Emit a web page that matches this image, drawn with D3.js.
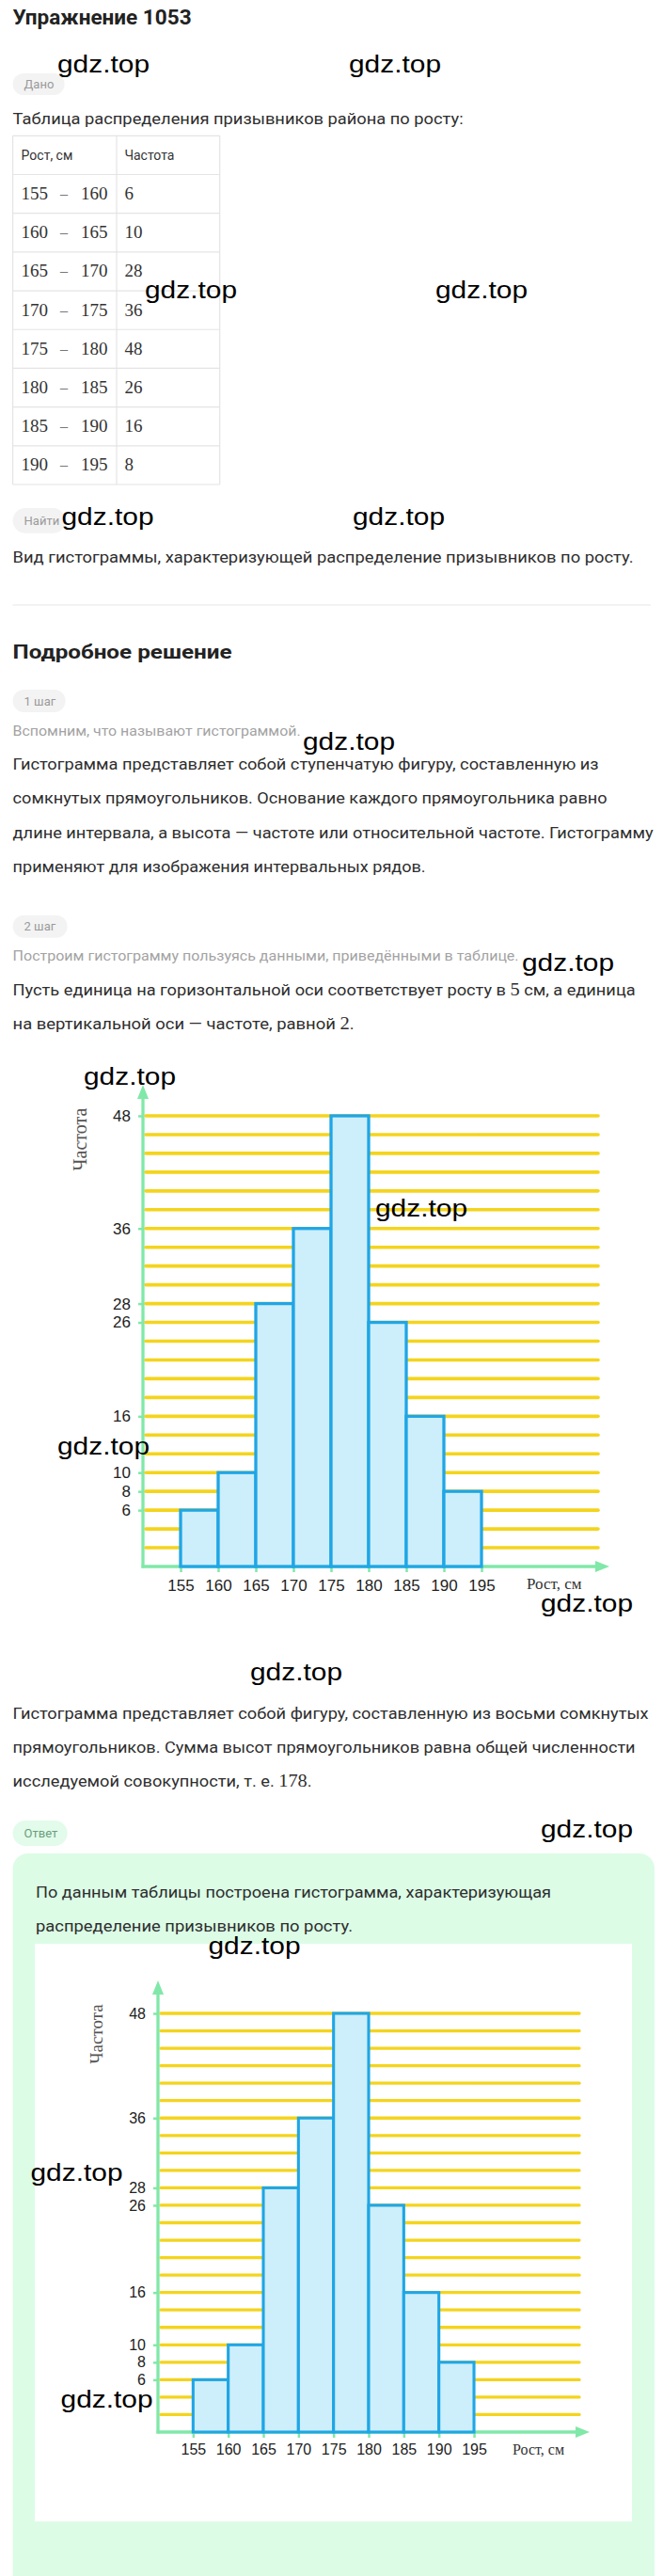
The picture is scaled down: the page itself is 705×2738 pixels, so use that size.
<!DOCTYPE html>
<html><head><meta charset="utf-8">
<script src="https://cdn.jsdelivr.net/npm/d3@7"></script>
<style>
html,body{margin:0;padding:0;background:#fff;}
svg{display:block;}
text{white-space:pre;}
</style></head><body>
<script>
// ---------- data ----------
const lows  = [155,160,165,170,175,180,185,190];
const highs = [160,165,170,175,180,185,190,195];
const freqs = [6,10,28,36,48,26,16,8];
const xTickValues = [155,160,165,170,175,180,185,190,195];
const yTickValues = [6,8,10,16,26,28,36,48];
const gridValues = [2,4,6,8,10,12,14,16,18,20,22,24,26,28,30,32,34,36,38,40,42,44,46,48];
const tableHeader = ["Рост, см","Частота"];
const yLabel = "Частота";
const xLabel = "Рост, см";

// ---------- styles ----------
const SANS = "Roboto, 'Liberation Sans', Arial, sans-serif";
const SERIF = "'Liberation Serif', 'Times New Roman', serif";
const ARIAL = "'Liberation Sans', Arial, sans-serif";
const DARK = "#2e2e2e", GRAY = "#a3a3a3";
const YELLOW = "#f4d41c", GREEN = "#80e8a8", BLUE = "#1fa6e6", FILL = "#cdeefb";

const W = 705, H = 2738;
const svg = d3.select("body").append("svg").attr("width", W).attr("height", H);
svg.append("rect").attr("width", W).attr("height", H).attr("fill", "#fff");

function txt(parent, segs, x, y, o) {
  const t = parent.append("text").attr("x", x).attr("y", y)
    .attr("font-family", o.family || SANS).attr("font-size", o.size || 17)
    .attr("font-weight", o.weight || 400).attr("fill", o.fill || DARK);
  if (o.len) t.attr("textLength", o.len).attr("lengthAdjust", "spacingAndGlyphs");
  if (typeof segs === "string") segs = [[segs, false]];
  segs.forEach(([s, serif]) => {
    const ts = t.append("tspan").text(s);
    if (serif) ts.attr("font-family", SERIF).attr("font-size", (o.size || 17) + 2);
  });
  return t;
}
function pill(parent, label, x, y, w, h, bg, fg) {
  parent.append("rect").attr("x", x).attr("y", y).attr("width", w).attr("height", h)
    .attr("rx", h / 2).attr("fill", bg);
  txt(parent, label, x + 12, y + h / 2 + 4.5, {size: 13, fill: fg});
}

// ---------- top section ----------
txt(svg, "Упражнение 1053", 13.6, 26, {size: 22, weight: 700, fill: "#222", len: 190});
pill(svg, "Дано", 13.6, 78, 55, 23, "#f3f3f3", "#9a9a9a");
txt(svg, "Таблица распределения призывников района по росту:", 13.6, 131.7, {size: 17, len: 479});

// table
const tb = svg.append("g");
const tTop = 144.3, rowH = 41.19, tLeft = 13.6, tMid = 124, tRight = 233.7;
const nRows = freqs.length + 1;
d3.range(nRows + 1).forEach(i => {
  tb.append("line").attr("x1", tLeft).attr("x2", tRight)
    .attr("y1", tTop + i * rowH).attr("y2", tTop + i * rowH)
    .attr("stroke", "#e4e4e4").attr("stroke-width", 1.2);
});
[tLeft, tMid, tRight].forEach(xv => {
  tb.append("line").attr("x1", xv).attr("x2", xv).attr("y1", tTop).attr("y2", tTop + nRows * rowH)
    .attr("stroke", "#e4e4e4").attr("stroke-width", 1.2);
});
txt(tb, tableHeader[0], 22.6, tTop + rowH / 2 + 5, {size: 14, fill: "#333"});
txt(tb, tableHeader[1], 132.4, tTop + rowH / 2 + 5, {size: 14, fill: "#333"});
freqs.forEach((f, i) => {
  const cy = tTop + rowH * (i + 1) + rowH / 2 + 6;
  txt(tb, String(lows[i]), 22.6, cy, {family: SERIF, size: 19, fill: "#333"});
  tb.append("text").attr("x", 68).attr("y", cy - 1).attr("text-anchor", "middle")
    .attr("font-family", SERIF).attr("font-size", 16).attr("fill", "#777").text("–");
  txt(tb, String(highs[i]), 86, cy, {family: SERIF, size: 19, fill: "#333"});
  txt(tb, String(f), 132.4, cy, {family: SERIF, size: 19, fill: "#333"});
});

pill(svg, "Найти", 13.6, 540, 56, 26.7, "#f3f3f3", "#9a9a9a");
txt(svg, "Вид гистограммы, характеризующей распределение призывников по росту.", 13.6, 597.7, {size: 17, len: 660});
svg.append("line").attr("x1", 13.6).attr("x2", 692).attr("y1", 643).attr("y2", 643)
  .attr("stroke", "#efefef").attr("stroke-width", 1.5);

txt(svg, "Подробное решение", 13.6, 700, {size: 21, weight: 700, fill: "#222", len: 233});
pill(svg, "1 шаг", 13.6, 733, 56, 24, "#f3f3f3", "#9a9a9a");
txt(svg, "Вспомним, что называют гистограммой.", 13.6, 781.7, {size: 15, fill: GRAY, len: 306});
txt(svg, "Гистограмма представляет собой ступенчатую фигуру, составленную из", 13.6, 818.3, {len: 623});
txt(svg, "сомкнутых прямоугольников. Основание каждого прямоугольника равно", 13.6, 854.3, {len: 632});
txt(svg, "длине интервала, а высота — частоте или относительной частоте. Гистограмму", 13.6, 890.7, {len: 681});
txt(svg, "применяют для изображения интервальных рядов.", 13.6, 926.7, {len: 439});
pill(svg, "2 шаг", 13.6, 972.7, 58, 24, "#f3f3f3", "#9a9a9a");
txt(svg, "Построим гистограмму пользуясь данными, приведёнными в таблице.", 13.6, 1021, {size: 15, fill: GRAY, len: 538});
txt(svg, [["Пусть единица на горизонтальной оси соответствует росту в ", false], ["5", true], [" см, а единица", false]], 13.6, 1058.3, {len: 662});
txt(svg, [["на вертикальной оси — частоте, равной ", false], ["2", true], [".", false]], 13.6, 1094, {len: 363});

// ---------- chart function ----------
function drawChart(g, c) {
  const x = d3.scaleLinear().domain([150, 195]).range([c.ax, c.ax + 45 * c.pxcm]);
  const y = d3.scaleLinear().domain([0, 48]).range([c.y0, c.y48]);

  // grid
  g.append("g").selectAll("line").data(gridValues).join("line")
    .attr("x1", c.ax + 3).attr("x2", c.gridEnd)
    .attr("y1", d => y(d)).attr("y2", d => y(d))
    .attr("stroke", YELLOW).attr("stroke-width", c.gw).attr("stroke-linecap", "round");

  // y axis ticks + labels
  const yg = g.append("g").attr("transform", `translate(${c.ax},0)`)
    .call(d3.axisLeft(y).tickValues(yTickValues).tickSize(5).tickPadding(8));
  yg.select(".domain").remove();
  yg.selectAll(".tick line").attr("stroke", GREEN).attr("stroke-width", 2.5);
  yg.selectAll(".tick text").attr("font-family", ARIAL).attr("font-size", c.fs)
    .attr("fill", "#222").attr("font-weight", 500);

  // x axis ticks + labels
  const xg = g.append("g").attr("transform", `translate(0,${c.y0})`)
    .call(d3.axisBottom(x).tickValues(xTickValues).tickSize(6).tickPadding(c.xpad).tickFormat(d3.format("d")));
  xg.select(".domain").remove();
  xg.selectAll(".tick line").attr("stroke", GREEN).attr("stroke-width", 2.5);
  xg.selectAll(".tick text").attr("font-family", ARIAL).attr("font-size", c.fs).attr("fill", "#222");

  // axis lines with arrows
  g.append("line").attr("x1", c.ax - 1.5).attr("x2", c.xArrow - 10)
    .attr("y1", c.y0).attr("y2", c.y0).attr("stroke", GREEN).attr("stroke-width", 3.3);
  g.append("path").attr("d", `M${c.xArrow},${c.y0} L${c.xArrow - 15},${c.y0 - 6} L${c.xArrow - 15},${c.y0 + 6} Z`)
    .attr("fill", GREEN);
  g.append("line").attr("x1", c.ax).attr("x2", c.ax)
    .attr("y1", c.y0 + 1.5).attr("y2", c.yArrow + 10).attr("stroke", GREEN).attr("stroke-width", 3.3);
  g.append("path").attr("d", `M${c.ax},${c.yArrow} L${c.ax - 6},${c.yArrow + 15} L${c.ax + 6},${c.yArrow + 15} Z`)
    .attr("fill", GREEN);

  // bars
  g.append("g").selectAll("rect").data(freqs).join("rect")
    .attr("x", (d, i) => x(lows[i])).attr("width", (d, i) => x(highs[i]) - x(lows[i]))
    .attr("y", d => y(d)).attr("height", d => y(0) - y(d))
    .attr("fill", FILL).attr("stroke", BLUE).attr("stroke-width", c.bw);

  // axis titles
  g.append("text").attr("x", c.xlx).attr("y", c.xly).attr("font-family", SERIF)
    .attr("font-size", c.xlfs).attr("fill", "#333").text(xLabel);
  g.append("text").attr("transform", `translate(${c.ylx},${c.yly}) rotate(-90)`)
    .attr("text-anchor", "middle").attr("dominant-baseline", "central")
    .attr("font-family", SERIF).attr("font-size", c.ylfs).attr("fill", "#555").text(yLabel);
}

drawChart(svg.append("g"), {
  ax: 152, pxcm: 8, y0: 1665, y48: 1186, yArrow: 1153, gridEnd: 636, xArrow: 648,
  gw: 3.6, bw: 3.3, fs: 17, xpad: 8,
  xlx: 560, xly: 1689, xlfs: 17, ylx: 85, yly: 1211, ylfs: 20
});

// after chart text
txt(svg, "Гистограмма представляет собой фигуру, составленную из восьми сомкнутых", 13.6, 1827, {len: 676});
txt(svg, "прямоугольников. Сумма высот прямоугольников равна общей численности", 13.6, 1863, {len: 662});
txt(svg, [["исследуемой совокупности, т. е. ", false], ["178", true], [".", false]], 13.6, 1899, {len: 318});

// answer
pill(svg, "Ответ", 13.6, 1935, 58, 27, "#e2fbea", "#6a9e7c");
svg.append("rect").attr("x", 13.6).attr("y", 1970).attr("width", 682.4).attr("height", 790)
  .attr("rx", 16).attr("fill", "#dcfce6");
txt(svg, "По данным таблицы построена гистограмма, характеризующая", 38, 2017, {len: 548});
txt(svg, "распределение призывников по росту.", 38, 2053, {len: 337});
svg.append("rect").attr("x", 37).attr("y", 2066).attr("width", 635).attr("height", 614).attr("fill", "#fff");

drawChart(svg.append("g"), {
  ax: 168, pxcm: 7.467, y0: 2585, y48: 2140, yArrow: 2105, gridEnd: 616, xArrow: 627,
  gw: 3.3, bw: 3.1, fs: 16, xpad: 7,
  xlx: 545, xly: 2609, xlfs: 16, ylx: 102, yly: 2162, ylfs: 19
});

// watermarks
const wmX = [61, 371, 154, 463, 65.5, 375, 322, 555, 89, 399, 61, 575, 266, 575, 221.5, 32.5, 64.6];
const wmY = [77, 77, 317, 317, 558, 558, 797, 1032, 1153, 1293, 1546, 1713, 1786, 1953, 2077, 2318, 2559];
wmX.forEach((xv, i) => {
  svg.append("text").attr("x", xv).attr("y", wmY[i]).attr("font-family", ARIAL)
    .attr("font-size", 26).attr("fill", "#000").attr("textLength", 98)
    .attr("lengthAdjust", "spacingAndGlyphs").text("gdz.top");
});
</script>
</body></html>
